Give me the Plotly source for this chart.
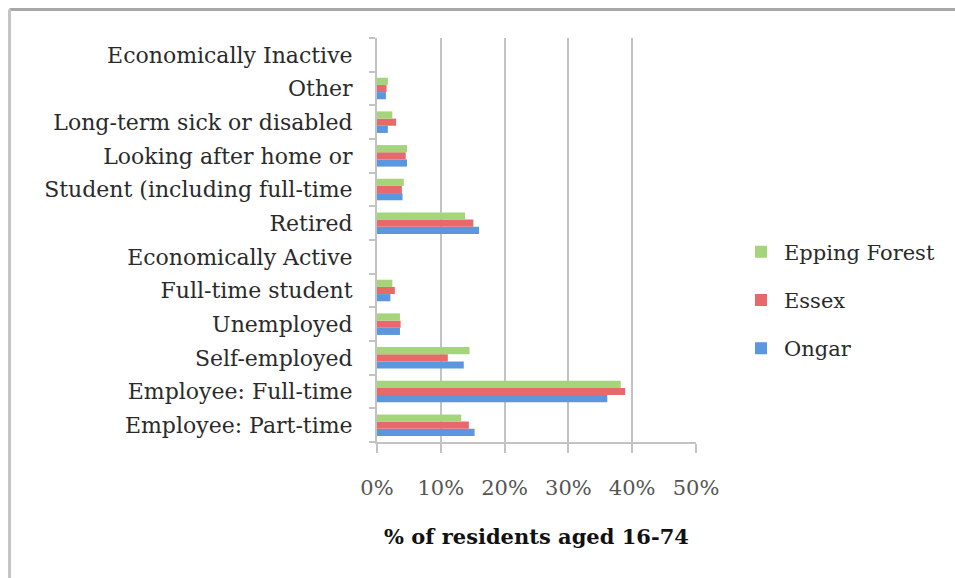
import plotly.graph_objects as go

# Economic activity categories, listed bottom to top
categories = [
    "Employee: Part-time",
    "Employee: Full-time",
    "Self-employed",
    "Unemployed",
    "Full-time student",
    "Economically Active",
    "Retired",
    "Student (including full-time",
    "Looking after home or",
    "Long-term sick or disabled",
    "Other",
    "Economically Inactive",
]

# Share of residents aged 16-74 (%)
ongar = [15.3, 36.1, 13.6, 3.6, 2.1, None, 16.0, 4.0, 4.7, 1.7, 1.4, None]
essex = [14.4, 38.9, 11.1, 3.7, 2.8, None, 15.1, 3.9, 4.5, 3.0, 1.5, None]
epping_forest = [13.2, 38.2, 14.5, 3.6, 2.4, None, 13.8, 4.2, 4.7, 2.4, 1.7, None]

x_ticks = [0, 10, 20, 30, 40, 50]
x_tick_labels = ["0%", "10%", "20%", "30%", "40%", "50%"]

# (name, values, colour, legend position)
series = [
    ("Ongar", ongar, "#5a97de", 3),
    ("Essex", essex, "#e8696b", 2),
    ("Epping Forest", epping_forest, "#a5d57a", 1),
]

FONT = "DejaVu Serif"

fig = go.Figure()
for name, vals, color, rank in series:
    fig.add_trace(go.Bar(
        y=categories, x=vals, name=name, orientation="h",
        marker=dict(color=color, line=dict(width=0)),
        legendgroup=name, legendrank=rank,
    ))

# Outer chart frame (top and left edges)
L, R, T, B = 377, 696, 38, 442
def px_x(p):
    return (p - L) / (R - L)
def px_y(p):
    return (B - p) / (B - T)

fig.add_shape(type="line", xref="paper", yref="paper",
              x0=px_x(9.5), x1=px_x(960), y0=px_y(9.5), y1=px_y(9.5),
              line=dict(color="#a8a8a8", width=3))
fig.add_shape(type="line", xref="paper", yref="paper",
              x0=px_x(9.5), x1=px_x(9.5), y0=px_y(9.5), y1=px_y(590),
              line=dict(color="#c4c4c4", width=3))

fig.update_layout(
    width=955, height=578,
    margin=dict(l=L, r=955 - R, t=T, b=578 - B),
    paper_bgcolor="white", plot_bgcolor="white",
    barmode="group", bargap=0.36, bargroupgap=0,
    font=dict(family=FONT, color="#2a2a2a", size=22),
    showlegend=True,
    legend=dict(
        x=px_x(738), y=px_y(300), xanchor="left", yanchor="middle",
        traceorder="grouped", tracegroupgap=18,
        font=dict(family=FONT, size=21, color="#2a2a2a"),
        itemwidth=36,
    ),
    xaxis=dict(
        range=[0, 50], tickvals=x_ticks, ticktext=x_tick_labels,
        showgrid=True, gridcolor="#c3c3c3", gridwidth=2,
        showline=True, linecolor="#c3c3c3", linewidth=2,
        ticks="outside", ticklen=9, tickcolor="#c3c3c3", tickwidth=2,
        ticklabelstandoff=17,
        tickfont=dict(family=FONT, size=21, color="#555555"),
        zeroline=False,
        title=dict(text="<b>% of residents aged 16-74</b>", standoff=30,
                   font=dict(family=FONT, size=21, color="#111111")),
    ),
    yaxis=dict(
        type="category", categoryorder="array", categoryarray=categories,
        showline=True, linecolor="#c3c3c3", linewidth=2,
        ticks="outside", tickson="boundaries", ticklen=6,
        tickcolor="#c3c3c3", tickwidth=2,
        ticklabelstandoff=18,
        tickfont=dict(family=FONT, size=22, color="#2a2a2a"),
        showgrid=False,
    ),
)

fig.write_html("out.html")
